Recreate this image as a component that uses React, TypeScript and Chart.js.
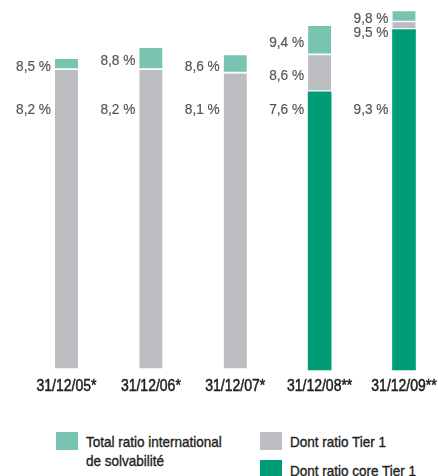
import React, { useEffect, useRef } from "react";
import { Chart, registerables } from "chart.js";
Chart.register(...registerables);

const categories = ["31/12/05*", "31/12/06*", "31/12/07*", "31/12/08**", "31/12/09**"];
const totalRatio = [8.5, 8.8, 8.6, 9.4, 9.8];
const tier1Ratio = [8.2, 8.2, 8.1, 8.6, 9.5];
const coreTier1Ratio: (number | null)[] = [null, null, null, 7.6, 9.3];
const legendTotal = ["Total ratio international", "de solvabilité"];
const legendTier1 = "Dont ratio Tier 1";
const legendCore = "Dont ratio core Tier 1";

const TEAL = "#79c4b1";
const GRAY = "#bcbdc1";
const GREEN = "#009b77";
const FONT = "'Liberation Sans', Arial, sans-serif";

const fmt = (v: number) => v.toFixed(1).replace(".", ",") + " %";

function drawText(ctx: any, text: string, x: number, y: number, sx: number, stroke = 0) {
  ctx.save();
  ctx.translate(x, y);
  ctx.scale(sx, 1);
  if (stroke > 0) {
    ctx.lineWidth = stroke;
    ctx.strokeStyle = ctx.fillStyle;
    ctx.strokeText(text, 0, 0);
  }
  ctx.fillText(text, 0, 0);
  ctx.restore();
}

const labelPlugin = {
  id: "segLabels",
  afterDatasetsDraw(chart: any) {
    const ctx = chart.ctx;
    const y = chart.scales.y;
    const x = chart.scales.x;
    const metaT1 = chart.getDatasetMeta(1);
    ctx.save();
    ctx.font = `15px ${FONT}`;
    ctx.fillStyle = "#555555";
    ctx.textAlign = "right";
    ctx.textBaseline = "middle";
    categories.forEach((_, i) => {
      const el = metaT1.data[i];
      const xr = el.x - el.width / 2 - 4;
      const segs: { lo: number; hi: number }[] = [];
      const core = coreTier1Ratio[i];
      if (core != null) segs.push({ lo: 0, hi: core });
      segs.push({ lo: core ?? 0, hi: tier1Ratio[i] });
      segs.push({ lo: tier1Ratio[i], hi: totalRatio[i] });
      const ys: number[] = [];
      ys[0] = y.getPixelForValue(7.1);
      let prev = -Infinity;
      for (let s = segs.length - 1; s >= 1; s--) {
        let py = y.getPixelForValue((segs[s].lo + segs[s].hi) / 2) + 2;
        if (py < prev + 14) py = prev + 14;
        ys[s] = py;
        prev = py;
      }
      segs.forEach((s, k) => drawText(ctx, fmt(s.hi), xr, ys[k], 0.91, 0.2));
    });
    ctx.font = `16px ${FONT}`;
    ctx.fillStyle = "#1e1e1e";
    ctx.textAlign = "center";
    categories.forEach((c, i) => {
      drawText(ctx, c, x.getPixelForValue(i), chart.chartArea.bottom + 17, 0.875, 0.5);
    });
    ctx.restore();
  },
};

export default function App() {
  const ref = useRef<HTMLCanvasElement>(null);
  useEffect(() => {
    if (!ref.current) return;
    const common = {
      grouped: false,
      barThickness: 23,
      borderSkipped: false,
      borderColor: "#ffffff",
      clip: false as any,
    };
    const chart = new Chart(ref.current, {
      type: "bar",
      data: {
        labels: categories,
        datasets: [
          {
            ...common,
            label: legendCore,
            data: coreTier1Ratio.map((v) => (v == null ? null : [0, v])) as any,
            backgroundColor: GREEN,
            borderWidth: 0,
          },
          {
            ...common,
            label: legendTier1,
            data: tier1Ratio.map((v, i) => [coreTier1Ratio[i] ?? 0, v]) as any,
            backgroundColor: GRAY,
            borderWidth: { top: 0, left: 0, right: 0, bottom: 2 } as any,
          },
          {
            ...common,
            label: legendTotal.join(" "),
            data: totalRatio.map((v, i) => [tier1Ratio[i], v]) as any,
            backgroundColor: TEAL,
            borderWidth: { top: 0, left: 0, right: 0, bottom: 2 } as any,
          },
        ],
      },
      options: {
        animation: false,
        responsive: false,
        maintainAspectRatio: false,
        layout: { padding: { left: 66.5, right: 34, top: 4, bottom: 30 } },
        plugins: { legend: { display: false }, tooltip: { enabled: false } },
        scales: {
          x: { display: false, offset: false },
          y: { display: false, min: 0, max: 10 },
        },
      },
      plugins: [labelPlugin],
    });
    return () => chart.destroy();
  }, []);

  const box = (c: string) => ({
    position: "absolute" as const,
    width: 22,
    height: 18,
    background: c,
  });
  const txt = {
    position: "absolute" as const,
    fontFamily: FONT,
    fontSize: 15,
    color: "#222",
    lineHeight: "19px",
    whiteSpace: "nowrap" as const,
    transform: "scaleX(0.9)",
    transformOrigin: "left top",
    WebkitTextStroke: "0.35px #222",
  };
  return (
    <div style={{ position: "absolute", left: 0, top: 0, width: 438, height: 476, background: "#fff", overflow: "hidden" }}>
      <canvas ref={ref} width={438} height={400} style={{ position: "absolute", left: 0, top: 0 }} />
      <div style={{ ...box(TEAL), left: 56, top: 432 }} />
      <div style={{ ...txt, left: 86, top: 432 }}>
        {legendTotal[0]}
        <br />
        {legendTotal[1]}
      </div>
      <div style={{ ...box(GRAY), left: 260, top: 432 }} />
      <div style={{ ...txt, left: 290, top: 432 }}>{legendTier1}</div>
      <div style={{ ...box(GREEN), left: 260, top: 460 }} />
      <div style={{ ...txt, left: 290, top: 461 }}>{legendCore}</div>
    </div>
  );
}
